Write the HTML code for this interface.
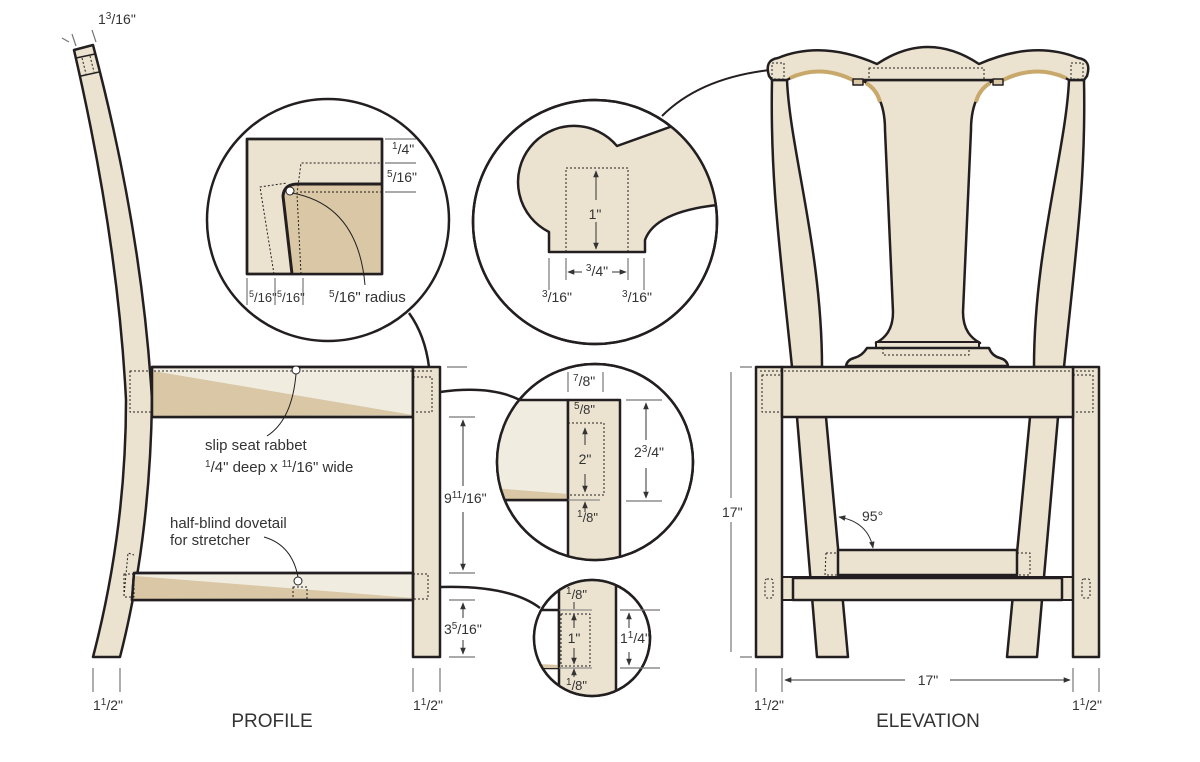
<!DOCTYPE html>
<html><head><meta charset="utf-8"><style>
html,body{margin:0;padding:0;background:#fff}
svg{display:block}
text{font-family:"Liberation Sans",sans-serif;fill:#333}
</style></head><body>
<svg width="1200" height="762" viewBox="0 0 1200 762" xmlns="http://www.w3.org/2000/svg">
<defs>
<marker id="a" viewBox="0 0 10 10" refX="9" refY="5" markerWidth="7" markerHeight="7" orient="auto-start-reverse"><path d="M0,1 L10,5 L0,9 Z" fill="#333"/></marker>
<clipPath id="c2"><circle cx="595" cy="222" r="122"/></clipPath>
<clipPath id="c3"><circle cx="595" cy="462" r="98"/></clipPath>
<clipPath id="c4"><circle cx="592" cy="638" r="58"/></clipPath>
</defs>
<g stroke="#231f20" stroke-linejoin="round">

<path d="M74,50 L93,45 Q142,230 152,400 Q150,540 120,657 L93,657 Q126,530 126,400 Q118,240 74,50 Z" fill="#ebe3d0" stroke-width="2.5"/>
<line x1="76" y1="58" x2="95" y2="54" stroke-width="1.5"/>
<line x1="81" y1="76" x2="99" y2="72" stroke-width="1.5"/>
<path d="M82,58 L86,74 M90,56 L94,72" stroke-dasharray="2,2" stroke-width="1" fill="none"/>
<rect x="152" y="367" width="261" height="50" fill="#f1ece0" stroke-width="2.5"/>
<path d="M153,371 L413,415 L153,416 Z" fill="#d9c7a5" stroke="none"/>
<rect x="152" y="367" width="261" height="50" fill="none" stroke-width="2.5"/>
<rect x="413" y="367" width="27" height="290" fill="#ebe3d0" stroke-width="2.5"/>
<path d="M130,371 L432,371" stroke-dasharray="2,2" stroke-width="1" fill="none"/>
<rect x="130" y="371" width="22" height="41" fill="none" stroke-dasharray="2,2" stroke-width="1"/>
<rect x="413" y="377" width="19" height="35" fill="none" stroke-dasharray="2,2" stroke-width="1"/>
<path d="M134,573 L413,573 L413,600 L132,600 Z" fill="#f1ece0" stroke-width="2.5"/>
<path d="M135,576 L413,598 L133,599 Z" fill="#d9c7a5" stroke="none"/>
<path d="M134,573 L413,573 L413,600 L132,600 Z" fill="none" stroke-width="2.5"/>
<path d="M124,596 L128,553 L134,555" fill="none" stroke-dasharray="2,2" stroke-width="1"/>
<rect x="124" y="574" width="10" height="23" fill="none" stroke-dasharray="2,2" stroke-width="1"/>
<rect x="413" y="574" width="15" height="25" fill="none" stroke-dasharray="2,2" stroke-width="1"/>
<rect x="293" y="587" width="14" height="13" fill="none" stroke-dasharray="2,2" stroke-width="1"/>
<circle cx="296" cy="370" r="4" fill="#fff" stroke-width="1"/>
<circle cx="298" cy="581" r="4" fill="#fff" stroke-width="1"/>
<path d="M296,374 Q292,420 267,436" fill="none" stroke-width="1"/>
<path d="M264,537 Q292,545 298,577" fill="none" stroke-width="1"/>

<g stroke="#777" stroke-width="1.2" fill="none">
<path d="M93,668 V692 M120,668 V692 M413,668 V692 M440,668 V692"/>
<path d="M447,367 H467 M449,417 H475 M449,573 H475 M449,600 H475 M449,657 H475"/>
<path d="M62,38 L69,42 M72,34 L76,46 M92,30 L96,42"/>
</g>
<g stroke="#333" stroke-width="1" fill="none">
<path d="M463,420 V486 M463,512 V570" marker-start="url(#a)" marker-end="url(#a)"/>
<path d="M463,603 V618 M463,640 V654" marker-start="url(#a)" marker-end="url(#a)"/>
</g>

<circle cx="328" cy="220" r="121" fill="#fff" stroke-width="2.5"/>
<path d="M409,313 Q425,335 429,367" fill="none" stroke-width="2.5"/>
<rect x="247" y="139" width="135" height="135" fill="#ebe3d0" stroke-width="2.5"/>
<path d="M382,184 L298,184 Q284,184 283,196 L292,274 L382,274 Z" fill="#d9c7a5" stroke="none"/>
<path d="M382,184 L298,184 Q284,184 283,196 L292,274" fill="none" stroke-width="3"/>
<rect x="247" y="139" width="135" height="135" fill="none" stroke-width="2.5"/>
<path d="M301,274 L297,194 L301,163 L382,163 M300,192 L382,192 M274,274 L260,187 L287,183" fill="none" stroke-dasharray="2,2" stroke-width="1"/>
<circle cx="290" cy="191" r="4" fill="#fff" stroke-width="1"/>
<path d="M292,193 Q358,205 365,285" fill="none" stroke-width="1"/>
<g stroke="#777" stroke-width="1.2" fill="none">
<path d="M385,139 H416 M385,163 H416 M385,192 H416 M247,278 V305 M275,278 V305 M303,278 V305"/>
</g>

<circle cx="595" cy="222" r="122" fill="#fff" stroke-width="2.5"/>
<path d="M662,116 Q700,78 770,70" fill="none" stroke-width="2"/>
<g clip-path="url(#c2)">
<path d="M549,252 L549,232 A56,56 0 1 1 617,146 L670,127 L760,110 L760,205 L717,205 Q655,212 645,240 L645,252 Z" fill="#ebe3d0" stroke-width="2.5"/>
</g>
<circle cx="595" cy="222" r="122" fill="none" stroke-width="2.5"/>
<rect x="566" y="168" width="62" height="84" fill="none" stroke-dasharray="2,2" stroke-width="1"/>
<path d="M596,171 V200 M596,222 V249" stroke="#333" stroke-width="1" fill="none" marker-start="url(#a)" marker-end="url(#a)"/>
<g stroke="#777" stroke-width="1.2" fill="none"><path d="M549,258 V290 M566,258 V280 M628,258 V280 M644,258 V290"/></g>
<path d="M568,272 H582 M612,272 H626" stroke="#333" stroke-width="1" fill="none" marker-start="url(#a)" marker-end="url(#a)"/>

<path d="M440,392 Q490,385 520,400" fill="none" stroke-width="2.5"/>
<circle cx="595" cy="462" r="98" fill="#fff" stroke-width="2.5"/>
<g clip-path="url(#c3)">
<rect x="480" y="400" width="88" height="100" fill="#f1ece0" stroke-width="2.5"/>
<path d="M480,487 L568,494 L568,500 L480,500 Z" fill="#d9c7a5" stroke="none"/>
<path d="M480,500 H568" stroke-width="2.5"/>
<rect x="568" y="400" width="52" height="200" fill="#ebe3d0" stroke-width="2.5"/>
<rect x="568" y="423" width="36" height="72" fill="none" stroke-dasharray="2,2" stroke-width="1"/>
<path d="M568,500 H600" stroke="#777" stroke-width="1"/>
</g>
<circle cx="595" cy="462" r="98" fill="none" stroke-width="2.5"/>
<path d="M585,428 V445 M585,474 V492" stroke="#333" stroke-width="1" fill="none" marker-start="url(#a)" marker-end="url(#a)"/>
<path d="M585,512 V502" stroke="#333" stroke-width="1" fill="none" marker-end="url(#a)"/>
<g stroke="#777" stroke-width="1.2" fill="none"><path d="M568,372 V392 M603,372 V392 M626,400 H662 M626,501 H662"/></g>
<path d="M646,403 V440 M646,468 V498" stroke="#333" stroke-width="1" fill="none" marker-start="url(#a)" marker-end="url(#a)"/>

<path d="M440,587 Q510,585 540,608" fill="none" stroke-width="2.5"/>
<circle cx="592" cy="638" r="58" fill="#fff" stroke-width="2.5"/>
<g clip-path="url(#c4)">
<rect x="520" y="610" width="39" height="58" fill="#fff" stroke-width="2.5"/>
<path d="M520,663 L559,665 L559,668 L520,668 Z" fill="#d9c7a5" stroke="none"/>
<rect x="559" y="570" width="57" height="140" fill="#ebe3d0" stroke-width="2.5"/>
<rect x="561" y="614" width="29" height="52" fill="none" stroke-dasharray="2,2" stroke-width="1"/>
<path d="M559,610 H592 M559,668 H592" stroke="#777" stroke-width="1"/>
</g>
<circle cx="592" cy="638" r="58" fill="none" stroke-width="2.5"/>
<path d="M574,602 V609 M574,677 V669" stroke="#333" stroke-width="1" fill="none" marker-end="url(#a)"/>
<path d="M574,614 V628 M574,648 V664" stroke="#333" stroke-width="1" fill="none" marker-start="url(#a)" marker-end="url(#a)"/>
<g stroke="#777" stroke-width="1.2" fill="none"><path d="M620,610 H660 M620,668 H660"/></g>
<path d="M629,613 V628 M629,652 V665" stroke="#333" stroke-width="1" fill="none" marker-start="url(#a)" marker-end="url(#a)"/>

<path d="M772,80 L787,80 C790,150 822,250 822,367 L792,367 C780,250 770,180 772,80 Z" fill="#ebe3d0" stroke-width="2.5"/>
<path d="M1084,80 L1069,80 C1066,150 1034,250 1034,367 L1064,367 C1076,250 1086,180 1084,80 Z" fill="#ebe3d0" stroke-width="2.5"/>
<path d="M862,80 C880,90 885,110 885,130 L893,312 C893,330 885,338 876,343 L980,343 C971,338 963,330 963,312 L971,130 C971,110 976,90 994,80 Z" fill="#ebe3d0" stroke-width="2.5"/>
<path d="M866,83 C874,88 878,94 880,102" fill="none" stroke="#c9a96b" stroke-width="4"/>
<path d="M990,83 C982,88 978,94 976,102" fill="none" stroke="#c9a96b" stroke-width="4"/>
<rect x="876" y="342" width="103" height="6" fill="#ebe3d0" stroke-width="2"/>
<path d="M867,348 L989,348 Q992,356 1000,358 Q1007,360 1008,366 L846,366 Q847,360 854,358 Q862,356 867,348 Z" fill="#ebe3d0" stroke-width="2.5"/>
<rect x="883" y="348" width="86" height="7" fill="none" stroke-dasharray="2,2" stroke-width="1"/>
<path d="M769,76 Q764,60 778,58 Q822,40 877,64 Q928,30 979,64 Q1034,40 1078,58 Q1092,60 1087,76 L1084,80 L1069,80 Q1040,62 1000,82 L994,80 L862,80 L856,82 Q816,62 787,80 L772,80 Z" fill="#ebe3d0" stroke-width="2.5"/>
<path d="M790,78 Q820,64 853,80" fill="none" stroke="#c9a96b" stroke-width="4"/>
<path d="M1066,78 Q1036,64 1003,80" fill="none" stroke="#c9a96b" stroke-width="4"/>
<rect x="853" y="79" width="10" height="6" fill="#d9c7a5" stroke-width="1.5"/>
<rect x="993" y="79" width="10" height="6" fill="#d9c7a5" stroke-width="1.5"/>
<rect x="869" y="68" width="115" height="12" fill="none" stroke-dasharray="2,2" stroke-width="1"/>
<rect x="772" y="63" width="12" height="16" fill="none" stroke-dasharray="2,2" stroke-width="1"/>
<rect x="1071" y="63" width="12" height="16" fill="none" stroke-dasharray="2,2" stroke-width="1"/>

<path d="M797,417 L826,417 L848,657 L817,657 Z" fill="#ebe3d0" stroke-width="2.5"/>
<path d="M1058,417 L1030,417 L1007,657 L1037,657 Z" fill="#ebe3d0" stroke-width="2.5"/>
<rect x="782" y="577" width="291" height="23" fill="#ebe3d0" stroke-width="2"/>
<rect x="838" y="550" width="179" height="25" fill="#ebe3d0" stroke-width="2.5"/>
<path d="M826,553 L838,553 M826,553 L825,575 L838,575 M1017,553 L1030,553 L1030,575 L1017,575" fill="none" stroke-dasharray="2,2" stroke-width="1"/>
<rect x="793" y="578" width="269" height="22" fill="#ebe3d0" stroke-width="2.5"/>
<rect x="756" y="367" width="26" height="290" fill="#ebe3d0" stroke-width="2.5"/>
<rect x="1073" y="367" width="26" height="290" fill="#ebe3d0" stroke-width="2.5"/>
<rect x="782" y="367" width="291" height="50" fill="#ebe3d0" stroke-width="2.5"/>
<path d="M760,371 L1095,371" stroke-dasharray="2,2" stroke-width="1" fill="none"/>
<rect x="762" y="375" width="20" height="37" fill="none" stroke-dasharray="2,2" stroke-width="1"/>
<rect x="1073" y="375" width="20" height="37" fill="none" stroke-dasharray="2,2" stroke-width="1"/>
<rect x="765" y="579" width="8" height="19" rx="2" fill="none" stroke-dasharray="2,2" stroke-width="1"/>
<rect x="1082" y="579" width="8" height="19" rx="2" fill="none" stroke-dasharray="2,2" stroke-width="1"/>
<path d="M839,517 Q868,522 873,548" fill="none" stroke="#333" stroke-width="1" marker-start="url(#a)" marker-end="url(#a)"/>
<g stroke="#777" stroke-width="1.2" fill="none">
<path d="M740,367 H752 M740,657 H752 M731,372 V498 M731,522 V652 M756,668 V692 M782,668 V692 M1073,668 V692 M1099,668 V692"/>
</g>
<path d="M785,680 H905 M950,680 H1070" stroke="#333" stroke-width="1" fill="none" marker-start="url(#a)" marker-end="url(#a)"/>
</g>

<g font-size="14">
<text x="98" y="24">1<tspan font-size="10" dy="-5">3</tspan><tspan dy="5">/16"</tspan></text>
<text x="392" y="154"><tspan font-size="10" dy="-5">1</tspan><tspan dy="5">/4"</tspan></text>
<text x="387" y="182"><tspan font-size="10" dy="-5">5</tspan><tspan dy="5">/16"</tspan></text>
<text x="249" y="302" font-size="13"><tspan font-size="9" dy="-5">5</tspan><tspan dy="5">/16"</tspan></text>
<text x="277" y="302" font-size="13"><tspan font-size="9" dy="-5">5</tspan><tspan dy="5">/16"</tspan></text>
<text x="329" y="302" font-size="15"><tspan font-size="10" dy="-5">5</tspan><tspan dy="5">/16" radius</tspan></text>
<text x="595" y="219" text-anchor="middle">1"</text>
<text x="597" y="276" text-anchor="middle"><tspan font-size="10" dy="-5">3</tspan><tspan dy="5">/4"</tspan></text>
<text x="542" y="302"><tspan font-size="10" dy="-5">3</tspan><tspan dy="5">/16"</tspan></text>
<text x="622" y="302"><tspan font-size="10" dy="-5">3</tspan><tspan dy="5">/16"</tspan></text>
<text x="205" y="450" font-size="15">slip seat rabbet</text>
<text x="205" y="472" font-size="15"><tspan font-size="10" dy="-5">1</tspan><tspan dy="5">/4" deep x </tspan><tspan font-size="10" dy="-5">11</tspan><tspan dy="5">/16" wide</tspan></text>
<text x="170" y="528" font-size="15">half-blind dovetail</text>
<text x="170" y="545" font-size="15">for stretcher</text>
<text x="444" y="503">9<tspan font-size="10" dy="-5">11</tspan><tspan dy="5">/16"</tspan></text>
<text x="444" y="634">3<tspan font-size="10" dy="-5">5</tspan><tspan dy="5">/16"</tspan></text>
<text x="573" y="386"><tspan font-size="10" dy="-5">7</tspan><tspan dy="5">/8"</tspan></text>
<text x="574" y="414" font-size="13"><tspan font-size="10" dy="-5">5</tspan><tspan dy="5">/8"</tspan></text>
<text x="585" y="464" text-anchor="middle">2"</text>
<text x="577" y="522" font-size="13"><tspan font-size="10" dy="-5">1</tspan><tspan dy="5">/8"</tspan></text>
<text x="634" y="457">2<tspan font-size="10" dy="-5">3</tspan><tspan dy="5">/4"</tspan></text>
<text x="566" y="599" font-size="13"><tspan font-size="10" dy="-5">1</tspan><tspan dy="5">/8"</tspan></text>
<text x="574" y="643" text-anchor="middle">1"</text>
<text x="566" y="690" font-size="13"><tspan font-size="10" dy="-5">1</tspan><tspan dy="5">/8"</tspan></text>
<text x="620" y="643">1<tspan font-size="10" dy="-5">1</tspan><tspan dy="5">/4"</tspan></text>
<text x="862" y="521">95°</text>
<text x="722" y="517">17"</text>
<text x="928" y="685" text-anchor="middle">17"</text>
<text x="93" y="710">1<tspan font-size="10" dy="-5">1</tspan><tspan dy="5">/2"</tspan></text>
<text x="413" y="710">1<tspan font-size="10" dy="-5">1</tspan><tspan dy="5">/2"</tspan></text>
<text x="754" y="710">1<tspan font-size="10" dy="-5">1</tspan><tspan dy="5">/2"</tspan></text>
<text x="1072" y="710">1<tspan font-size="10" dy="-5">1</tspan><tspan dy="5">/2"</tspan></text>
<text x="272" y="727" font-size="19" text-anchor="middle">PROFILE</text>
<text x="928" y="727" font-size="19" text-anchor="middle">ELEVATION</text>
</g>
</svg>
</body></html>
